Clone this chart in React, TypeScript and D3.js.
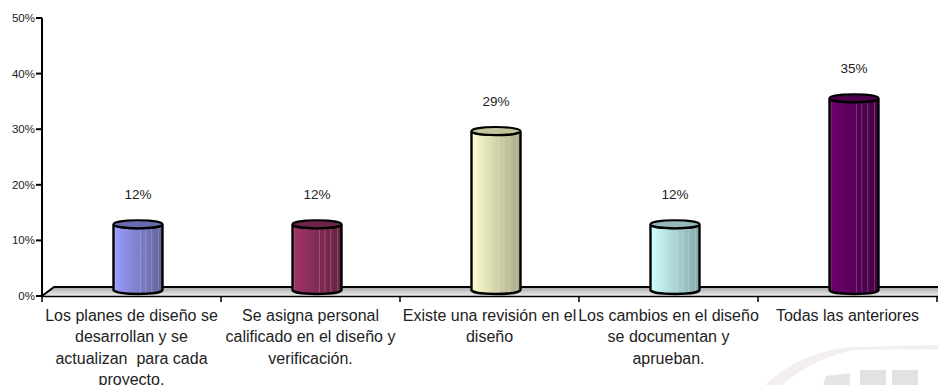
import React from "react";
import * as d3 from "d3";

const categories = [
  ["Los planes de diseño se", "desarrollan y se", "actualizan  para cada", "proyecto."],
  ["Se asigna personal", "calificado en el diseño y", "verificación."],
  ["Existe una revisión en el", "diseño"],
  ["Los cambios en el diseño", "se documentan y", "aprueban."],
  ["Todas las anteriores"],
];
const values = [12, 12, 29, 12, 35];
const lightColors = ["#9c9cff", "#a03468", "#ffffcf", "#cfffff", "#6c006c"];
const darkColors = ["#62629a", "#642342", "#a8a888", "#86a8a8", "#440044"];
const topColors = ["#6a6ab0", "#6e2447", "#c4c49c", "#96baba", "#4c004c"];
const yTicks = [0, 10, 20, 30, 40, 50];
const streaks = [0.03, 0.55, 0.66, 0.78, 0.92];

export default function App() {
  const x = d3.scaleBand<number>().domain(d3.range(5)).range([42, 937]);
  const y = d3.scaleLinear().domain([0, 50]).range([296, 18]);
  const yBar = d3.scaleLinear().domain([0, 50]).range([290, 16]);
  const rx = 24.5, ry = 4;
  const depth = 6.5;
  return (
    <svg width={938} height={385} style={{ position: "absolute", left: 0, top: 0, background: "#fff" }}
      fontFamily="'Liberation Sans', Arial, sans-serif">
      <defs>
        <linearGradient id="floor" x1="0" y1="0" x2="0" y2="1">
          <stop offset="0" stopColor="#a8a8a8" />
          <stop offset="1" stopColor="#eeeeee" />
        </linearGradient>
        {values.map((_, i) => (
          <linearGradient key={i} id={`g${i}`} x1="0" x2="1" y1="0" y2="0">
            <stop offset="0" stopColor={lightColors[i]} />
            <stop offset="1" stopColor={darkColors[i]} />
          </linearGradient>
        ))}
      </defs>

      {/* faint watermark */}
      <path d="M765,385 Q800,352 850,347 L938,345 L938,349 L855,350 Q815,357 782,385 Z" fill="#f3efef" />
      <path d="M823,385 L826,376 L850,373 L850,385 Z" fill="#e6e6e6" />
      <rect x={860} y={370} width={26} height={15} fill="#e2e2e2" />
      <rect x={892} y={370} width={26} height={15} fill="#e2e2e2" />

      {/* floor */}
      <path d="M42,296 L54,287 L938,287 L938,296 Z" fill="url(#floor)" />
      <path d="M42,296 L54,287 L938,287" fill="none" stroke="#000" strokeWidth={2} />

      {/* axes */}
      <line x1={42} x2={42} y1={18} y2={297} stroke="#000" strokeWidth={2} />
      <line x1={42} x2={938} y1={296.5} y2={296.5} stroke="#000" strokeWidth={1.5} />
      {yTicks.map((t) => (
        <g key={t}>
          <line x1={36} x2={42} y1={y(t)} y2={y(t)} stroke="#000" strokeWidth={2} />
          <text x={35} y={y(t) + 4} textAnchor="end" fontSize={11.5} fill="#222">{t}%</text>
        </g>
      ))}
      {d3.range(6).map((i) => {
        const px = i < 5 ? x(i)! : 937;
        return <line key={i} x1={px} x2={px} y1={296} y2={302} stroke="#000" strokeWidth={1.5} />;
      })}

      {/* cylinders */}
      {values.map((v, i) => {
        const cx = x(i)! + x.bandwidth() / 2 + depth;
        const top = yBar(v);
        const base = yBar(0);
        const body = `M${cx - rx},${top} L${cx - rx},${base} A${rx},${ry} 0 0 0 ${cx + rx},${base} L${cx + rx},${top} A${rx},${ry} 0 0 1 ${cx - rx},${top} Z`;
        return (
          <g key={i}>
            <path d={body} fill={`url(#g${i})`} />
            {streaks.map((s, j) => (
              <line key={j} x1={cx - rx + s * 2 * rx} x2={cx - rx + s * 2 * rx} y1={top + ry} y2={base + 3}
                stroke="#fff" strokeOpacity={0.28} strokeWidth={0.8} />
            ))}
            <path d={body} fill="none" stroke="#000" strokeWidth={2.4} />
            <ellipse cx={cx} cy={top} rx={rx} ry={ry} fill={topColors[i]} stroke="#000" strokeWidth={2} />
            <text x={cx} y={top - 25.5} textAnchor="middle" fontSize={13.5} fill="#222">
              {d3.format(".0f")(v)}%
            </text>
          </g>
        );
      })}

      {/* category labels */}
      {categories.map((lines, i) => {
        const cx = x(i)! + x.bandwidth() / 2;
        return (
          <text key={i} textAnchor="middle" fontSize={16} fill="#222">
            {lines.map((l, j) => (
              <tspan key={j} x={cx} y={320.5 + j * 21.6} style={{ whiteSpace: "pre" }}>{l}</tspan>
            ))}
          </text>
        );
      })}
    </svg>
  );
}
